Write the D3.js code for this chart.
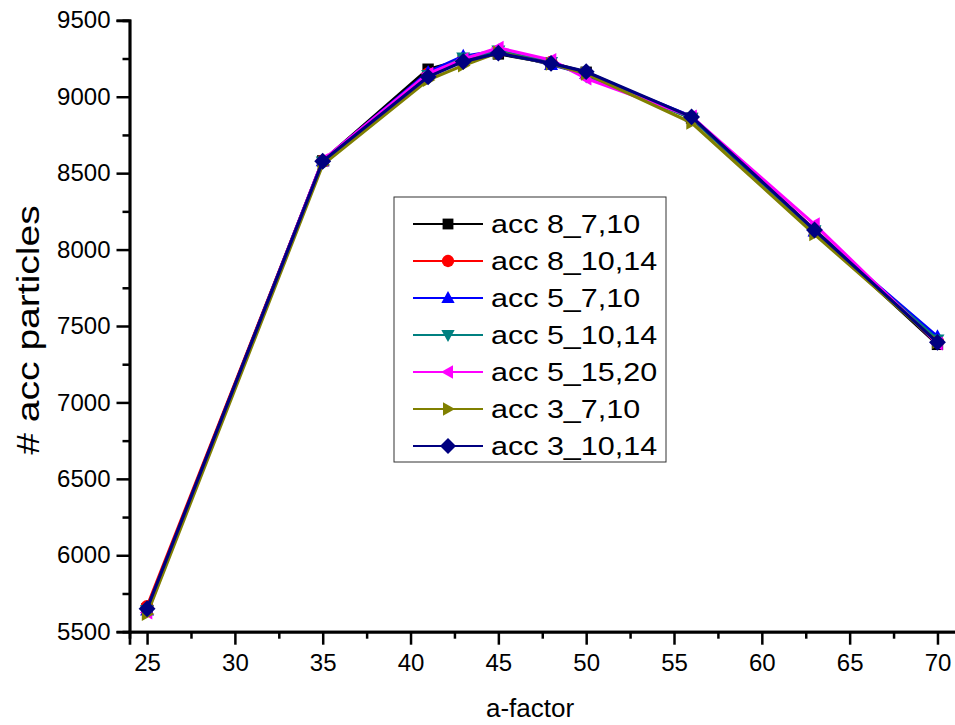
<!DOCTYPE html>
<html>
<head>
<meta charset="utf-8">
<script src="https://cdn.jsdelivr.net/npm/d3@7"></script>
<style>
  html, body { margin: 0; padding: 0; background: #fff; }
  svg { display: block; font-family: "Liberation Sans", Arial, sans-serif; }
</style>
</head>
<body>
<svg id="chart" width="955" height="725"></svg>
<script>
// a-factor values shared by every series
const aFactor = [25, 35, 41, 43, 45, 48, 50, 56, 63, 70];

// accepted particle counts for each setting
const acc8_7_10  = [5650, 8580, 9180, 9240, 9280, 9220, 9160, 8860, 8120, 7380];
const acc8_10_14 = [5665, 8580, 9150, 9240, 9290, 9225, 9150, 8860, 8130, 7400];
const acc5_7_10  = [5640, 8580, 9160, 9265, 9300, 9210, 9150, 8870, 8120, 7430];
const acc5_10_14 = [5640, 8575, 9140, 9255, 9300, 9225, 9135, 8860, 8125, 7410];
const acc5_15_20 = [5625, 8585, 9150, 9245, 9320, 9240, 9120, 8870, 8165, 7385];
const acc3_7_10  = [5615, 8555, 9110, 9205, 9290, 9215, 9150, 8830, 8100, 7395];
const acc3_10_14 = [5650, 8578, 9130, 9230, 9285, 9218, 9164, 8868, 8128, 7393];

const seriesNames  = ["acc 8_7,10", "acc 8_10,14", "acc 5_7,10", "acc 5_10,14", "acc 5_15,20", "acc 3_7,10", "acc 3_10,14"];
const seriesValues = [acc8_7_10, acc8_10_14, acc5_7_10, acc5_10_14, acc5_15_20, acc3_7_10, acc3_10_14];
const seriesColors = ["#000000", "#ff0000", "#0000ff", "#008080", "#ff00ff", "#808000", "#000080"];
const seriesShapes = ["square", "circle", "up", "down", "left", "right", "diamond"];

const xTicks = [25, 30, 35, 40, 45, 50, 55, 60, 65, 70];
const yTicks = [5500, 6000, 6500, 7000, 7500, 8000, 8500, 9000, 9500];

const svg = d3.select("#chart");

const x = d3.scaleLinear().domain([24, 72]).range([129.5, 972.6]);
const y = d3.scaleLinear().domain([5500, 9500]).range([631.7, 20.3]);

// marker outlines, r is roughly the half-extent in px
function markerPath(shape, r) {
  const p = d3.path();
  switch (shape) {
    case "square":
      p.rect(-r, -r, 2 * r, 2 * r); break;
    case "circle":
      p.arc(0, 0, r, 0, 2 * Math.PI); break;
    case "up":
      p.moveTo(0, -r * 1.05); p.lineTo(r, r * 0.75); p.lineTo(-r, r * 0.75); p.closePath(); break;
    case "down":
      p.moveTo(0, r * 1.05); p.lineTo(r, -r * 0.75); p.lineTo(-r, -r * 0.75); p.closePath(); break;
    case "left":
      p.moveTo(-r * 1.05, 0); p.lineTo(r * 0.75, -r); p.lineTo(r * 0.75, r); p.closePath(); break;
    case "right":
      p.moveTo(r * 1.05, 0); p.lineTo(-r * 0.75, -r); p.lineTo(-r * 0.75, r); p.closePath(); break;
    case "diamond":
      p.moveTo(0, -r * 1.3); p.lineTo(r * 1.3, 0); p.lineTo(0, r * 1.3); p.lineTo(-r * 1.3, 0); p.closePath(); break;
  }
  return p.toString();
}
const markerSize = { square: 5.7, circle: 6.5, up: 7, down: 7, left: 7, right: 7, diamond: 6.5 };

// axes
const xAxis = d3.axisBottom(x).tickValues(xTicks).tickSize(13).tickPadding(9).tickFormat(d3.format("d"));
const xMinor = d3.axisBottom(x).tickValues(d3.range(27.5, 72, 5)).tickSize(7).tickFormat("");
const yAxis = d3.axisLeft(y).tickValues(yTicks).tickSize(13).tickPadding(6).tickFormat(d3.format("d"));
const yMinor = d3.axisLeft(y).tickValues(d3.range(5750, 9500, 500)).tickSize(7).tickFormat("");

function styleAxis(g) {
  g.select(".domain").attr("stroke", "#000").attr("stroke-width", 2.7);
  g.selectAll(".tick line").attr("stroke", "#000").attr("stroke-width", 2.5);
  g.selectAll(".tick text").attr("fill", "#000").style("font-size", "24px")
    .style("font-family", "'Liberation Sans', Arial, sans-serif");
}

svg.append("g").attr("transform", `translate(0,${y(5500)})`).call(xMinor).call(styleAxis);
svg.append("g").attr("transform", `translate(0,${y(5500)})`).call(xAxis).call(styleAxis);
svg.append("g").attr("transform", `translate(${x(24)},0)`).call(yMinor).call(styleAxis);
svg.append("g").attr("transform", `translate(${x(24)},0)`).call(yAxis).call(styleAxis);
svg.selectAll(".domain").attr("d", function () { return d3.select(this).attr("d").replace(/M[-\d.]+,6V0/, "M0,0").replace(/M-6,[-\d.]+H0/, "M0,0"); });

// axis titles
svg.append("text").attr("x", 530).attr("y", 717).attr("text-anchor", "middle")
  .style("font-size", "26px").text("a-factor");
svg.append("text").attr("transform", "translate(39,330) rotate(-90) scale(1.22,1)").attr("text-anchor", "middle")
  .style("font-size", "32px").text("# acc particles");

// series lines and markers
const line = d3.line().x((d, i) => x(aFactor[i])).y(d => y(d));
const plot = svg.append("g");
seriesValues.forEach((vals, k) => {
  const g = plot.append("g");
  g.append("path").attr("d", line(vals)).attr("fill", "none")
    .attr("stroke", seriesColors[k]).attr("stroke-width", 3.2).attr("stroke-linejoin", "round");
  g.selectAll("path.m").data(vals).join("path").attr("class", "m")
    .attr("transform", (d, i) => `translate(${x(aFactor[i])},${y(d)})`)
    .attr("d", markerPath(seriesShapes[k], markerSize[seriesShapes[k]]))
    .attr("fill", seriesColors[k]);
});

// legend
const legend = svg.append("g").attr("transform", "translate(394,197)");
legend.append("rect").attr("width", 272).attr("height", 265)
  .attr("fill", "#fff").attr("stroke", "#333").attr("stroke-width", 1);
seriesNames.forEach((name, k) => {
  const row = legend.append("g").attr("transform", `translate(0,${27 + k * 37})`);
  row.append("line").attr("x1", 19).attr("x2", 89).attr("stroke", seriesColors[k]).attr("stroke-width", 2.2);
  row.append("path").attr("transform", "translate(54,0)")
    .attr("d", markerPath(seriesShapes[k], markerSize[seriesShapes[k]] * 0.95)).attr("fill", seriesColors[k]);
  row.append("text").attr("transform", "translate(97,0) scale(1.22,1)").attr("dy", "0.36em")
    .style("font-size", "25px").text(name);
});
</script>
</body>
</html>
